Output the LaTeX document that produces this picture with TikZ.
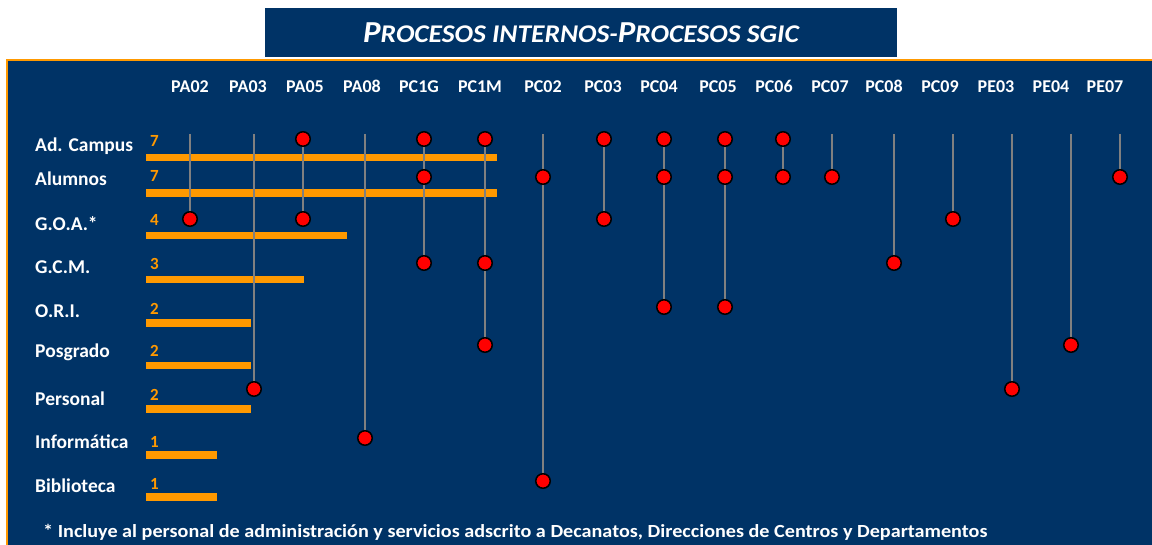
\documentclass[tikz,border=0pt]{standalone}
\usepackage{fontspec}
\setmainfont{Carlito}
\definecolor{navy}{RGB}{0,51,102}
\definecolor{orng}{RGB}{255,153,0}
\definecolor{lgray}{RGB}{128,128,128}
\tikzset{
  hdr/.style={text=white, font=\fontsize{18}{18}\selectfont\bfseries, inner sep=0, anchor=base},
  rowlbl/.style={text=white, font=\fontsize{19.5}{19.5}\selectfont\bfseries, anchor=base west, inner sep=0},
  cnt/.style={text=orng, font=\fontsize{17}{17}\selectfont\bfseries, anchor=base west, inner sep=0},
  barfill/.style={fill=orng},
  link/.style={draw=lgray, line width=2.8pt},
  dotmark/.style={circle, fill=red, draw=black, line width=1.5pt, minimum size=14.5pt, inner sep=0},
}
\begin{document}
\begin{tikzpicture}[x=1pt,y=-1pt]
\useasboundingbox (0,0) rectangle (1152,545);
\clip (0,0) rectangle (1152,545);
\fill[white] (0,0) rectangle (1152,545);
% main panel
\draw[fill=navy, draw=orng, line width=2pt] (7,60) rectangle (1170,570);
% title
\node[fill=navy, minimum width=632pt, minimum height=49pt, inner sep=0, text=white,
  font=\bfseries\itshape\addfontfeatures{FakeStretch=1.08}] (title) at (581,33)
  {{\fontsize{30.5}{30.5}\selectfont P}{\fontsize{25.5}{25.5}\selectfont ROCESOS INTERNOS-}{\fontsize{30.5}{30.5}\selectfont P}{\fontsize{25.5}{25.5}\selectfont ROCESOS SGIC}};
% column headers
\foreach \n/\x in {PA02/190,PA03/248,PA05/305,PA08/362,PC1G/419,PC1M/480,PC02/543,PC03/603,PC04/659,PC05/718,PC06/774,PC07/830,PC08/884,PC09/940,PE03/996,PE04/1051,PE07/1105}
  \node[hdr] (h-\n) at (\x,93) {\n};
% row labels
\node[rowlbl] (l1) at (35,152) {Ad. Campus};
\node[rowlbl] (l2) at (35,186) {Alumnos};
\node[rowlbl] (l3) at (35,230.5) {G.O.A.*};
\node[rowlbl] (l4) at (35,274) {G.C.M.};
\node[rowlbl] (l5) at (35,318) {O.R.I.};
\node[rowlbl] (l6) at (35,358) {Posgrado};
\node[rowlbl] (l7) at (35,406) {Personal};
\node[rowlbl] (l8) at (35,449) {Informática};
\node[rowlbl] (l9) at (35,492.5) {Biblioteca};
% counts
\node[cnt] (n1) at (150,147) {7};
\node[cnt] (n2) at (150,182) {7};
\node[cnt] (n3) at (150,226) {4};
\node[cnt] (n4) at (150,270) {3};
\node[cnt] (n5) at (150,315) {2};
\node[cnt] (n6) at (150,357) {2};
\node[cnt] (n7) at (150,401) {2};
\node[cnt] (n8) at (150,447) {1};
\node[cnt] (n9) at (150,489) {1};
% bars
\fill[barfill] (146,154) rectangle (497,161);
\fill[barfill] (146,189) rectangle (497,197);
\fill[barfill] (146,232) rectangle (347,239.5);
\fill[barfill] (146,276) rectangle (304,283.5);
\fill[barfill] (146,319) rectangle (251,327);
\fill[barfill] (146,362) rectangle (251,369.5);
\fill[barfill] (146,405) rectangle (251,413);
\fill[barfill] (146,450.5) rectangle (217,458.5);
\fill[barfill] (146,493) rectangle (217,501);
% top coordinates of columns
\foreach \n/\x in {PA02/190,PA03/254,PA05/303,PA08/365,PC1G/424,PC1M/485,PC02/543,PC03/604,PC04/664,PC05/725,PC06/783,PC07/832,PC08/894,PC09/953,PE03/1012,PE04/1071,PE07/1120}
  \coordinate (t-\n) at (\x,134);
% dot positions
\coordinate (PA02-r3) at (190,219);
\coordinate (PA03-r7) at (254,389);
\coordinate (PA05-r1) at (303,139);
\coordinate (PA05-r3) at (303,219);
\coordinate (PA08-r8) at (365,438);
\coordinate (PC1G-r1) at (424,139);
\coordinate (PC1G-r2) at (424,177);
\coordinate (PC1G-r4) at (424,263);
\coordinate (PC1M-r1) at (485,139);
\coordinate (PC1M-r4) at (485,263);
\coordinate (PC1M-r6) at (485,345);
\coordinate (PC02-r2) at (543,177);
\coordinate (PC02-r9) at (543,481);
\coordinate (PC03-r1) at (604,139);
\coordinate (PC03-r3) at (604,219);
\coordinate (PC04-r1) at (664,139);
\coordinate (PC04-r2) at (664,177);
\coordinate (PC04-r5) at (664,307);
\coordinate (PC05-r1) at (725,139);
\coordinate (PC05-r2) at (725,177);
\coordinate (PC05-r5) at (725,307);
\coordinate (PC06-r1) at (783,139);
\coordinate (PC06-r2) at (783,177);
\coordinate (PC07-r2) at (832,177);
\coordinate (PC08-r4) at (894,263);
\coordinate (PC09-r3) at (953,219);
\coordinate (PE03-r7) at (1012,389);
\coordinate (PE04-r6) at (1071,345);
\coordinate (PE07-r2) at (1120,177);
% connectors
\draw[link] (t-PA02) -- (PA02-r3);
\draw[link] (t-PA03) -- (PA03-r7);
\draw[link] (PA05-r1) -- (PA05-r3);
\draw[link] (t-PA08) -- (PA08-r8);
\draw[link] (PC1G-r1) -- (PC1G-r4);
\draw[link] (PC1M-r1) -- (PC1M-r6);
\draw[link] (t-PC02) -- (PC02-r9);
\draw[link] (PC03-r1) -- (PC03-r3);
\draw[link] (PC04-r1) -- (PC04-r5);
\draw[link] (PC05-r1) -- (PC05-r5);
\draw[link] (PC06-r1) -- (PC06-r2);
\draw[link] (t-PC07) -- (PC07-r2);
\draw[link] (t-PC08) -- (PC08-r4);
\draw[link] (t-PC09) -- (PC09-r3);
\draw[link] (t-PE03) -- (PE03-r7);
\draw[link] (t-PE04) -- (PE04-r6);
\draw[link] (t-PE07) -- (PE07-r2);
% dots
\foreach \d in {PA02-r3,PA03-r7,PA05-r1,PA05-r3,PA08-r8,PC1G-r1,PC1G-r2,PC1G-r4,PC1M-r1,PC1M-r4,PC1M-r6,PC02-r2,PC02-r9,PC03-r1,PC03-r3,PC04-r1,PC04-r2,PC04-r5,PC05-r1,PC05-r2,PC05-r5,PC06-r1,PC06-r2,PC07-r2,PC08-r4,PC09-r3,PE03-r7,PE04-r6,PE07-r2}
  \node[dotmark] (d-\d) at (\d) {};
% footnote
\node[text=white, font=\fontsize{18.5}{18.5}\selectfont\bfseries\addfontfeatures{FakeStretch=1.09}, anchor=west, inner sep=0] (foot) at (43,532)
  {* Incluye al personal de administración y servicios adscrito a Decanatos, Direcciones de Centros y Departamentos};
\end{tikzpicture}
\end{document}
